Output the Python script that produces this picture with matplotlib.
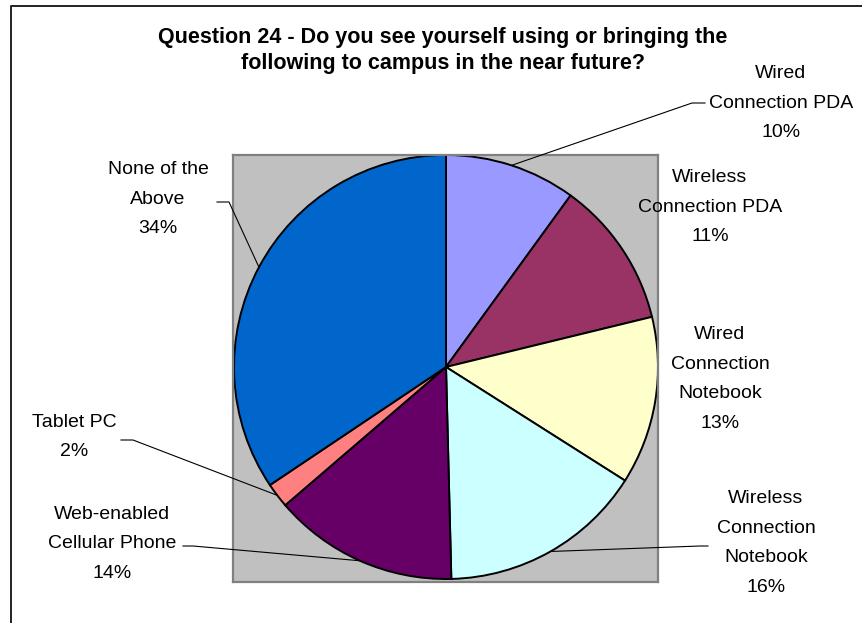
import matplotlib
matplotlib.use("Agg")
import numpy as np
import matplotlib.pyplot as plt
from matplotlib.lines import Line2D

plt.rcParams["font.family"] = ["Liberation Sans", "DejaVu Sans"]

# ---- data ------------------------------------------------------------------
categories = ["Wired\nConnection PDA", "Wireless\nConnection PDA",
              "Wired\nConnection\nNotebook", "Wireless\nConnection\nNotebook",
              "Web-enabled\nCellular Phone", "Tablet PC", "None of the\nAbove"]
shares = [10.0, 11.2, 12.8, 15.6, 14.1, 1.9, 34.4]
colors = ["#9999FF", "#993366", "#FFFFCC", "#CCFFFF", "#660066", "#FF8080", "#0066CC"]
title_lines = ["Question 24 - Do you see yourself using or bringing the",
               "following to campus in the near future?"]

# ---- layout (figure pixels, y measured from the top) ----------------------
W, H = 864, 623
lab_center = [(781, 103), (710, 207), (720, 379), (766, 543),
              (112, 544), (74, 437), (158, 199)]
# leader: text-side start and elbow (None = no leader line)
leaders = [((705, 103), (692, 103)), None, None, ((708, 546), (700, 546)),
           ((183, 546), (193, 546)), ((121, 440), (133, 440)),
           ((217, 202), (229, 202))]
box = (233, 155, 658, 582)          # grey plot area l, t, r, b
centre = (446, 367); R = 212
line_h = 29.5

def fx(x): return x / W
def fy(y): return 1 - y / H

fig = plt.figure(figsize=(W / 100, H / 100), dpi=100)
fig.patch.set_facecolor("white")

# chart-area frame (only left and top edges are visible)
fig.add_artist(Line2D([fx(11), fx(11), fx(861)], [fy(H + 2), fy(6), fy(6)],
                      color="#222222", lw=1.4, transform=fig.transFigure))

l, t, r, b = box
ax = fig.add_axes([fx(l), fy(b), fx(r - l), (b - t) / H])
wedges, _ = ax.pie(shares, colors=colors, startangle=90, counterclock=False,
                   radius=R, center=(0, 0),
                   wedgeprops=dict(edgecolor="black", linewidth=1.4))
ax.set_aspect("auto")
ax.set_xlim(l - centre[0], r - centre[0])
ax.set_ylim(centre[1] - b, centre[1] - t)
ax.set_frame_on(True)
ax.set_facecolor("#C0C0C0")
for s in ax.spines.values():
    s.set_color("#808080"); s.set_linewidth(1.6)
ax.set_xticks([]); ax.set_yticks([])

# title
for i, txt in enumerate(title_lines):
    fig.text(fx(443), fy(38 + 25 * i), txt, ha="center", va="center",
             fontsize=15.5, fontweight="bold", color="black")

# labels + leader lines
total = sum(shares)
inv = fig.transFigure.inverted()
for k, w in enumerate(wedges):
    lines = categories[k].split("\n") + [f"{shares[k] / total * 100:.0f}%"]
    cx, cy = lab_center[k]
    n = len(lines)
    for i, s in enumerate(lines):
        fig.text(fx(cx), fy(cy + (i - (n - 1) / 2) * line_h), s,
                 ha="center", va="center", fontsize=14, color="black")
    if leaders[k] is not None:
        ang = np.deg2rad((w.theta1 + w.theta2) / 2)
        ex, ey = ax.transData.transform((R * np.cos(ang), R * np.sin(ang)))
        ex, ey = inv.transform((ex, ey))
        (sx, sy), (bx, by) = leaders[k]
        fig.add_artist(Line2D([fx(sx), fx(bx), ex], [fy(sy), fy(by), ey],
                              color="black", lw=0.8, transform=fig.transFigure))

fig.savefig("out.png", dpi=100)
